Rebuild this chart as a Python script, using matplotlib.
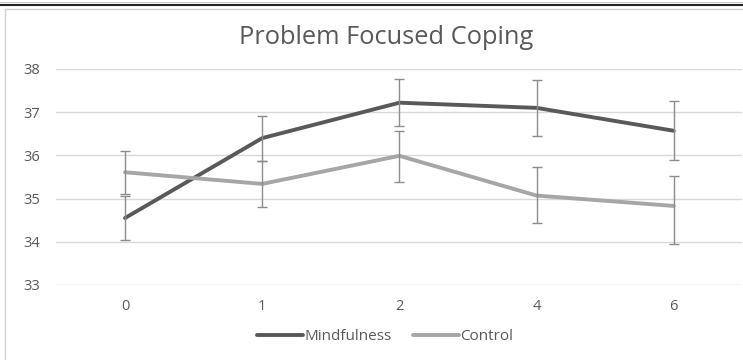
"""Problem Focused Coping - line chart with error bars (Excel style)."""
import numpy as np
import matplotlib.pyplot as plt
from matplotlib.lines import Line2D
from matplotlib.patches import Rectangle

# Data
timepoints = ['0', '1', '2', '4', '6']
mindfulness = [34.55, 36.40, 37.22, 37.10, 36.57]
mind_err_lo = [0.50, 0.52, 0.55, 0.65, 0.68]
mind_err_hi = [0.50, 0.51, 0.55, 0.65, 0.70]
control = [35.61, 35.34, 35.99, 35.07, 34.83]
ctrl_err_lo = [0.50, 0.53, 0.61, 0.64, 0.88]
ctrl_err_hi = [0.50, 0.53, 0.57, 0.65, 0.69]

dark = '#595959'
light = '#a6a6a6'
err_col = '#8c8c8c'
txt_col = '#595959'

plt.rcParams['font.family'] = ['Open Sans', 'DejaVu Sans']

fig = plt.figure(figsize=(7.43, 3.6), dpi=100)

# chart frame like the Excel chart area
fig.patches.append(Rectangle((5 / 743, -0.05), 1.0, 1 - 9 / 360 + 0.05,
                             transform=fig.transFigure, fill=False,
                             edgecolor='#d0d0d0', lw=1.0))
fig.lines.append(Line2D([0, 1], [1 - 5 / 360, 1 - 5 / 360],
                        transform=fig.transFigure, color='#222222', lw=1.5))
fig.lines.append(Line2D([0, 1], [1 - 1.5 / 360, 1 - 1.5 / 360],
                        transform=fig.transFigure, color='#c8c8c8', lw=0.8))

ax = fig.add_axes([56.4 / 743, 1 - 285 / 360, 686 / 743, 216 / 360])
x = np.arange(len(timepoints))

ax.plot(x, mindfulness, color=dark, lw=2.8, solid_capstyle='round',
        label='Mindfulness', zorder=3)
ax.plot(x, control, color=light, lw=2.8, solid_capstyle='round',
        label='Control', zorder=3)

ax.errorbar(x, mindfulness, yerr=[mind_err_lo, mind_err_hi], fmt='none',
            ecolor=err_col, elinewidth=1.0, capsize=3.5, capthick=1.0, zorder=4)
ax.errorbar(x, control, yerr=[ctrl_err_lo, ctrl_err_hi], fmt='none',
            ecolor=err_col, elinewidth=1.0, capsize=3.5, capthick=1.0, zorder=4)

ax.set_xlim(-0.5, len(timepoints) - 0.5)
ax.set_ylim(33, 38)
ax.set_yticks(range(33, 39))
ax.set_xticks(x)
ax.set_xticklabels(timepoints)
ax.yaxis.grid(True, color='#d9d9d9', lw=1.0)
ax.set_axisbelow(True)
for s in ax.spines.values():
    s.set_visible(False)
ax.tick_params(axis='both', length=0, labelsize=10.5, labelcolor=txt_col)
ax.tick_params(axis='y', pad=12)
ax.tick_params(axis='x', pad=10)

fig.text(386 / 743, 1 - 38 / 360, 'Problem Focused Coping', ha='center',
         va='center', fontsize=18.3, color=txt_col)

fig.legend(loc='center', bbox_to_anchor=(385 / 743, 1 - 337 / 360), ncol=2,
           frameon=False, fontsize=11, handlelength=3.0, handletextpad=0.1,
           columnspacing=1.4, labelcolor=txt_col)

plt.savefig('out.png', dpi=100)
